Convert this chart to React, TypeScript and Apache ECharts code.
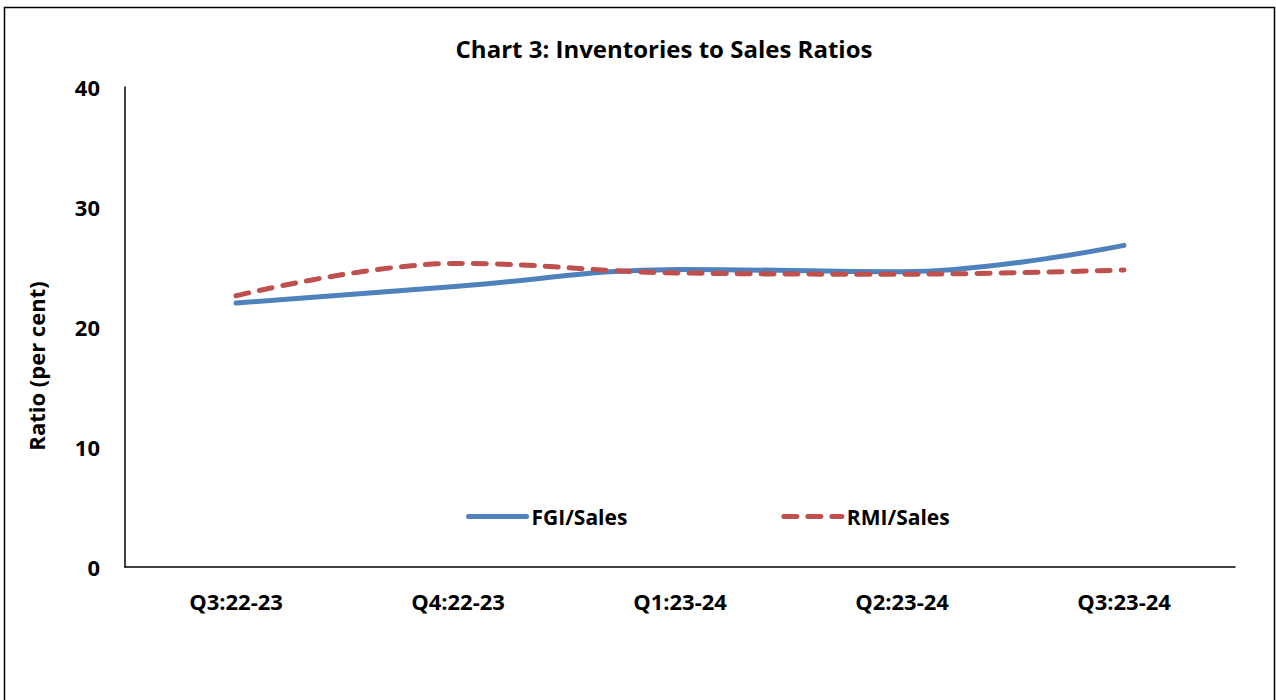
import React, { useEffect, useRef } from "react";
import * as echarts from "echarts";

const categories = ["Q3:22-23", "Q4:22-23", "Q1:23-24", "Q2:23-24", "Q3:23-24"];
const fgiSales = [22.0, 23.4, 24.8, 24.6, 26.8];
const rmiSales = [22.6, 25.3, 24.5, 24.4, 24.75];
const yTicks = { min: 0, max: 40, interval: 10 };

const FONT = "'Open Sans', sans-serif";

export default function App() {
  const ref = useRef<HTMLDivElement>(null);
  useEffect(() => {
    if (!ref.current) return;
    const chart = echarts.init(ref.current, null, { renderer: "svg" });
    chart.setOption({
      animation: false,
      backgroundColor: "#ffffff",
      textStyle: { fontFamily: FONT },
      title: {
        text: "Chart 3: Inventories to Sales Ratios",
        left: 659,
        textAlign: "center",
        top: 31,
        textStyle: { fontFamily: FONT, fontSize: 24, fontWeight: "bold", color: "#000" },
      },
      grid: { left: 125, right: 41, top: 87, bottom: 133, containLabel: false },
      legend: {
        left: 461,
        top: 501,
        itemWidth: 58,
        itemHeight: 14,
        itemGap: 154,
        data: ["FGI/Sales", "RMI/Sales"],
        itemStyle: { opacity: 0 },
        lineStyle: { width: 5, cap: "round" },
        textStyle: { fontFamily: FONT, fontSize: 21, fontWeight: "bold", color: "#000" },
      },
      xAxis: {
        type: "category",
        data: categories,
        boundaryGap: true,
        axisLine: { lineStyle: { color: "#000", width: 1.5 } },
        axisTick: { show: false },
        axisLabel: { margin: 23, fontFamily: FONT, fontSize: 22, fontWeight: "bold", color: "#000" },
        splitLine: { show: false },
      },
      yAxis: {
        type: "value",
        min: yTicks.min,
        max: yTicks.max,
        interval: yTicks.interval,
        axisLine: { show: true, lineStyle: { color: "#000", width: 1.5 } },
        axisTick: { show: false },
        splitLine: { show: false },
        axisLabel: { margin: 25, fontFamily: FONT, fontSize: 22, fontWeight: "bold", color: "#000" },
      },
      graphic: [
        {
          type: "rect",
          shape: { x: 4.5, y: 7.5, width: 1270, height: 720 },
          style: { fill: "none", stroke: "#000", lineWidth: 1.5 },
          silent: true,
        },
        {
          type: "text",
          x: 36,
          y: 366,
          rotation: Math.PI / 2,
          style: {
            text: "Ratio (per cent)",
            fontFamily: FONT,
            fontSize: 22,
            fontWeight: "bold",
            fill: "#000",
            align: "center",
            verticalAlign: "middle",
          },
        },
      ],
      series: [
        {
          name: "FGI/Sales",
          type: "line",
          data: fgiSales,
          smooth: 0.4,
          symbol: "none",
          lineStyle: { color: "#4F81BD", width: 5, cap: "round" },
          itemStyle: { color: "#4F81BD" },
        },
        {
          name: "RMI/Sales",
          type: "line",
          data: rmiSales,
          smooth: 0.4,
          symbol: "none",
          lineStyle: { color: "#C0504D", width: 5, type: [13, 11], cap: "round" },
          itemStyle: { color: "#C0504D" },
        },
      ],
    });
    return () => chart.dispose();
  }, []);
  return (
    <div
      ref={ref}
      style={{ position: "absolute", left: 0, top: 0, width: 1276, height: 700 }}
    />
  );
}
